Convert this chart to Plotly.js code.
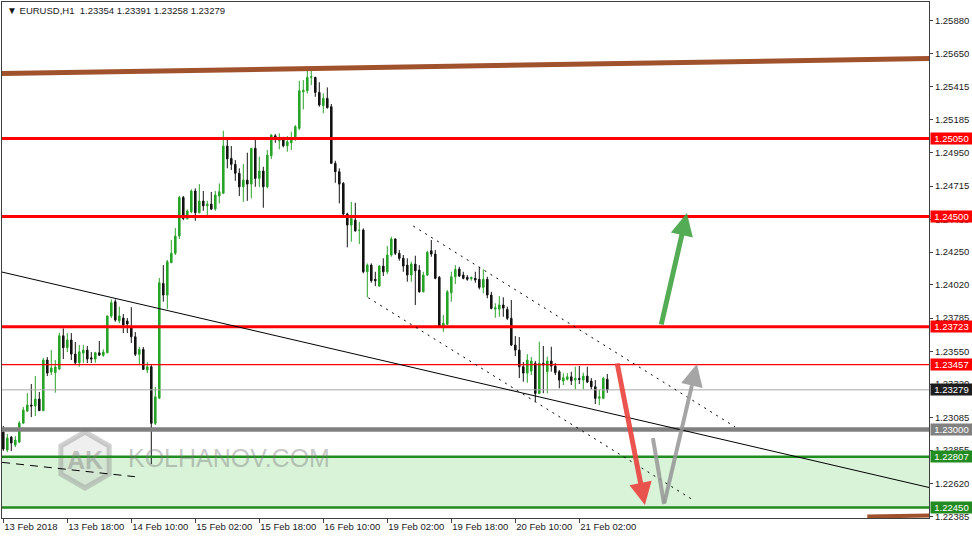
<!DOCTYPE html>
<html>
<head>
<meta charset="utf-8">
<script src="https://cdn.plot.ly/plotly-3.0.1.min.js"></script>
<style>html,body{margin:0;padding:0;background:#fff;}#chart{width:972px;height:539px;}</style>
</head>
<body>
<div id="chart"></div>
<script>
// ---- Candle data (EURUSD H1, bar index 0 = 13 Feb 02:00) ----
const openP = [
1.22982,1.22855,1.22946,1.22890,1.22911,1.23045,1.23130,1.23172,1.23165,1.23214,
1.23132,1.23489,1.23404,1.23400,1.23426,1.23660,1.23576,1.23630,1.23531,1.23470,
1.23538,1.23559,1.23505,1.23496,1.23540,1.23522,1.23540,1.23799,1.23900,1.23766,
1.23785,1.23764,1.23724,1.23653,1.23529,1.23564,1.23419,1.23442,1.23043,1.23221,
1.24029,1.23947,1.24175,1.24241,1.24363,1.24635,1.24485,1.24534,1.24680,1.24527,
1.24609,1.24576,1.24588,1.24553,1.24645,1.24664,1.24997,1.24910,1.24868,1.24805,
1.24710,1.24757,1.24729,1.24981,1.24769,1.24821,1.24710,1.24929,1.25069,1.25034,
1.25051,1.24999,1.25020,1.25044,1.25122,1.25379,1.25387,1.25481,1.25481,1.25375,
1.25281,1.25333,1.25274,1.24875,1.24816,1.24734,1.24518,1.24440,1.24475,1.24403,
1.24405,1.24111,1.24158,1.24058,1.24010,1.24151,1.24111,1.24229,1.24342,1.24241,
1.24206,1.24158,1.24088,1.24165,1.24123,1.23970,1.24088,1.24259,1.24236,1.24072,
1.23729,1.23741,1.23963,1.24076,1.24130,1.24088,1.24072,1.24062,1.24065,1.24058,
1.24001,1.24058,1.23947,1.23848,1.23848,1.23877,1.23846,1.23783,1.23595,1.23559,
1.23442,1.23397,1.23411,1.23466,1.23254,1.23466,1.23407,1.23482,1.23447,1.23407,
1.23341,1.23353,1.23371,1.23348,1.23360,1.23348,1.23376,1.23341,1.23301,1.23219,
1.23219,1.23354];
const highP = [
1.23024,1.22968,1.22953,1.22953,1.23059,1.23158,1.23256,1.23320,1.23376,1.23264,
1.23503,1.23510,1.23559,1.23489,1.23681,1.23712,1.23679,1.23679,1.23616,1.23595,
1.23595,1.23588,1.23545,1.23547,1.23623,1.23564,1.23802,1.23917,1.23917,1.23865,
1.23813,1.23785,1.23862,1.23686,1.23581,1.23581,1.23475,1.23454,1.23299,1.24067,
1.24158,1.24194,1.24335,1.24419,1.24645,1.24645,1.24551,1.24692,1.24699,1.24729,
1.24680,1.24611,1.24673,1.24680,1.24734,1.25105,1.25039,1.24997,1.24898,1.24840,
1.24870,1.24950,1.24983,1.25044,1.24921,1.24851,1.24969,1.25081,1.25081,1.25086,
1.25062,1.25067,1.25098,1.25145,1.25457,1.25462,1.25551,1.25551,1.25485,1.25446,
1.25368,1.25410,1.25293,1.24893,1.24840,1.24743,1.24527,1.24604,1.24597,1.24463,
1.24417,1.24170,1.24170,1.24111,1.24158,1.24206,1.24292,1.24358,1.24347,1.24264,
1.24229,1.24206,1.24182,1.24224,1.24158,1.24111,1.24259,1.24335,1.24264,1.24081,
1.23806,1.23982,1.24111,1.24158,1.24146,1.24111,1.24088,1.24076,1.24111,1.24146,
1.24128,1.24076,1.23970,1.23889,1.23940,1.23931,1.23865,1.23912,1.23658,1.23651,
1.23475,1.23531,1.23510,1.23482,1.23618,1.23588,1.23512,1.23583,1.23468,1.23419,
1.23395,1.23397,1.23407,1.23442,1.23447,1.23400,1.23442,1.23362,1.23348,1.23278,
1.23371,1.23391];
const lowP = [
1.22848,1.22841,1.22848,1.22876,1.22904,1.23038,1.23123,1.23087,1.23094,1.23130,
1.23130,1.23376,1.23383,1.23259,1.23419,1.23496,1.23545,1.23489,1.23454,1.23442,
1.23468,1.23468,1.23468,1.23470,1.23517,1.23512,1.23538,1.23785,1.23759,1.23748,
1.23679,1.23679,1.23609,1.23517,1.23461,1.23419,1.23397,1.22756,1.23031,1.23214,
1.23900,1.23848,1.24172,1.24229,1.24342,1.24475,1.24480,1.24523,1.24471,1.24523,
1.24541,1.24511,1.24546,1.24541,1.24593,1.24659,1.24840,1.24828,1.24752,1.24645,
1.24604,1.24611,1.24628,1.24710,1.24710,1.24562,1.24699,1.24905,1.25020,1.24974,
1.24988,1.24957,1.24969,1.25034,1.25110,1.25255,1.25368,1.25427,1.25344,1.25274,
1.25227,1.25262,1.24870,1.24738,1.24593,1.24511,1.24283,1.24323,1.24393,1.24306,
1.24100,1.23931,1.24034,1.24010,1.24006,1.24081,1.24095,1.24217,1.24229,1.24189,
1.24111,1.24041,1.24041,1.23877,1.23963,1.23966,1.24081,1.24217,1.24058,1.23722,
1.23688,1.23736,1.23900,1.24025,1.24074,1.24058,1.24048,1.24048,1.24034,1.23987,
1.23959,1.23924,1.23846,1.23787,1.23794,1.23794,1.23771,1.23588,1.23517,1.23362,
1.23336,1.23329,1.23383,1.23195,1.23249,1.23256,1.23254,1.23407,1.23383,1.23290,
1.23313,1.23345,1.23313,1.23283,1.23320,1.23283,1.23327,1.23283,1.23179,1.23172,
1.23214,1.23258];
const closeP = [
1.22862,1.22939,1.22904,1.22925,1.23045,1.23137,1.23172,1.23165,1.23214,1.23132,
1.23489,1.23397,1.23433,1.23440,1.23660,1.23576,1.23630,1.23531,1.23470,1.23547,
1.23559,1.23496,1.23496,1.23540,1.23524,1.23545,1.23799,1.23893,1.23771,1.23799,
1.23736,1.23743,1.23653,1.23529,1.23564,1.23423,1.23442,1.23043,1.23230,1.24034,
1.23947,1.24182,1.24241,1.24363,1.24635,1.24487,1.24539,1.24680,1.24527,1.24609,
1.24576,1.24588,1.24553,1.24652,1.24675,1.24997,1.24907,1.24868,1.24805,1.24710,
1.24757,1.24729,1.24981,1.24769,1.24821,1.24710,1.24933,1.25074,1.25046,1.25051,
1.24999,1.25027,1.25055,1.25133,1.25387,1.25391,1.25481,1.25485,1.25375,1.25286,
1.25333,1.25267,1.24875,1.24816,1.24729,1.24518,1.24440,1.24487,1.24400,1.24403,
1.24111,1.24158,1.24048,1.24048,1.24151,1.24111,1.24229,1.24342,1.24241,1.24206,
1.24151,1.24088,1.24165,1.24118,1.23970,1.24088,1.24248,1.24236,1.24065,1.23729,
1.23748,1.23970,1.24076,1.24128,1.24081,1.24065,1.24058,1.24072,1.24053,1.24001,
1.24058,1.23947,1.23853,1.23858,1.23877,1.23855,1.23783,1.23595,1.23559,1.23442,
1.23397,1.23489,1.23482,1.23254,1.23466,1.23454,1.23482,1.23447,1.23400,1.23348,
1.23364,1.23371,1.23343,1.23360,1.23352,1.23376,1.23334,1.23301,1.23219,1.23230,
1.23360,1.23279];

// ---- Axis ticks ----
const timeTickBars = [0,16,32,48,64,80,96,112,128,144];
const timeTickLabels = ["13 Feb 2018","13 Feb 18:00","14 Feb 10:00","15 Feb 02:00","15 Feb 18:00",
                        "16 Feb 10:00","19 Feb 02:00","19 Feb 18:00","20 Feb 10:00","21 Feb 02:00"];
const priceTicks = [1.25880,1.25650,1.25415,1.25185,1.24950,1.24715,1.24480,1.24250,
                    1.24020,1.23785,1.23550,1.23320,1.23085,1.22855,1.22620,1.22385];

// ---- Drawn levels / objects ----
const redLevels = [1.25050, 1.24500, 1.23723, 1.23457];
const supportLevel = 1.23000;
const currentPrice = 1.23279;
const greenZone = [1.22450, 1.22807];
const brownLineX = [-0.33, 231.43];
const brownLineY = [1.25508, 1.25614];
const brownLowX = [216.0, 231.43];
const brownLowY = [1.22386, 1.22394];
const trendLineX = [-0.33, 231.43];
const trendLineY = [1.24109, 1.22591];
const dashLineX = [-0.3, 32.9];
const dashLineY = [1.22768, 1.22667];
const chanUpperX = [102.5, 182.9];
const chanUpperY = [1.24433, 1.23019];
const chanLowerX = [91.25, 172.9];
const chanLowerY = [1.23928, 1.22495];
const arrowGreenX = [164.4, 170.9];   // tail, tip
const arrowGreenY = [1.23729, 1.24525];
const arrowRedX = [153.4, 160.4];
const arrowRedY = [1.23476, 1.22467];
const arrowGrayX = [162.4, 165.2, 173.4]; // start, bottom, tip
const arrowGrayY = [1.22939, 1.22474, 1.23461];
const labelPrices = [1.25050, 1.24500, 1.23723, 1.23457, 1.23279, 1.23000, 1.22807, 1.22450];
const labelColors = ['#ff0000','#ff0000','#ff0000','#ff0000','#1e1e1e','#808080','#228b22','#228b22'];

const barIdx = openP.map((_, i) => i);

const trace = {
  type: 'candlestick',
  x: barIdx, open: openP, high: highP, low: lowP, close: closeP,
  increasing: {line: {color: '#28a428', width: 1}, fillcolor: '#28a428'},
  decreasing: {line: {color: '#141414', width: 1}, fillcolor: '#141414'},
  whiskerwidth: 0,
  hoverinfo: 'skip'
};

// paper helpers for decorations (plot area: x 2..929, y 2..518)
const PX = px => (px - 2) / 927;
const PY = py => 1 - (py - 2) / 516;

const shapes = [];
shapes.push({type:'rect', xref:'paper', yref:'y', x0:0, x1:1, y0:greenZone[0], y1:greenZone[1],
  fillcolor:'#d8f3d8', line:{width:0}, layer:'below'});
// watermark hexagon
const hex = [[85,432],[109.2,446],[109.2,474],[85,488],[60.8,474],[60.8,446]];
shapes.push({type:'path', xref:'paper', yref:'paper',
  path: 'M' + hex.map(p => PX(p[0]).toFixed(5) + ',' + PY(p[1]).toFixed(5)).join('L') + 'Z',
  line:{color:'rgba(150,150,150,0.45)', width:5}, fillcolor:'rgba(190,190,190,0.25)', layer:'above'});

redLevels.forEach((v, i) => shapes.push({type:'line', xref:'paper', yref:'y', x0:0, x1:1, y0:v, y1:v,
  line:{color:'#ff0000', width: i === 3 ? 1.2 : 3}}));
shapes.push({type:'line', xref:'paper', yref:'y', x0:0, x1:1, y0:currentPrice, y1:currentPrice,
  line:{color:'#a8a8a8', width:1}});
shapes.push({type:'line', xref:'paper', yref:'y', x0:0, x1:1, y0:supportLevel, y1:supportLevel,
  line:{color:'#808080', width:4.5}});
greenZone.forEach(v => shapes.push({type:'line', xref:'paper', yref:'y', x0:0, x1:1, y0:v, y1:v,
  line:{color:'#228b22', width:2.5}}));
shapes.push({type:'line', xref:'x', yref:'y', x0:brownLineX[0], x1:brownLineX[1], y0:brownLineY[0], y1:brownLineY[1],
  line:{color:'#a0522d', width:5}});
shapes.push({type:'line', xref:'x', yref:'y', x0:brownLowX[0], x1:brownLowX[1], y0:brownLowY[0], y1:brownLowY[1],
  line:{color:'#a0522d', width:4}});
shapes.push({type:'line', xref:'x', yref:'y', x0:trendLineX[0], x1:trendLineX[1], y0:trendLineY[0], y1:trendLineY[1],
  line:{color:'#000', width:1}});
shapes.push({type:'line', xref:'x', yref:'y', x0:dashLineX[0], x1:dashLineX[1], y0:dashLineY[0], y1:dashLineY[1],
  line:{color:'#000', width:1, dash:'8px,6px'}});
shapes.push({type:'line', xref:'x', yref:'y', x0:chanUpperX[0], x1:chanUpperX[1], y0:chanUpperY[0], y1:chanUpperY[1],
  line:{color:'#000', width:1, dash:'2px,5px'}});
shapes.push({type:'line', xref:'x', yref:'y', x0:chanLowerX[0], x1:chanLowerX[1], y0:chanLowerY[0], y1:chanLowerY[1],
  line:{color:'#000', width:1, dash:'2px,5px'}});
shapes.push({type:'line', xref:'x', yref:'y', x0:arrowGrayX[0], x1:arrowGrayX[1], y0:arrowGrayY[0], y1:arrowGrayY[1],
  line:{color:'rgba(150,150,150,0.85)', width:4}});

const annotations = [];
const arrowAnn = (xs, ys, i0, i1, color) => ({
  xref:'x', yref:'y', axref:'x', ayref:'y', x: xs[i1], y: ys[i1], ax: xs[i0], ay: ys[i0],
  text:'', showarrow:true, arrowhead:2, arrowsize:0.9, arrowwidth:5, arrowcolor: color, standoff:0
});
annotations.push(arrowAnn(arrowGreenX, arrowGreenY, 0, 1, 'rgba(70,165,70,0.92)'));
annotations.push(arrowAnn(arrowRedX, arrowRedY, 0, 1, 'rgba(235,70,66,0.92)'));
annotations.push(Object.assign(arrowAnn(arrowGrayX, arrowGrayY, 1, 2, 'rgba(150,150,150,0.85)'), {arrowwidth:4, arrowsize:1.1}));

labelPrices.forEach((v, i) => annotations.push({
  xref:'paper', yref:'y', x:1, y:v, xanchor:'left', yanchor:'middle', xshift:1,
  text: v.toFixed(5), showarrow:false, bgcolor: labelColors[i], borderpad:0,
  width: 41, height: 11, align:'center',
  font:{color:'#ffffff', size:9.5, family:'"Liberation Sans", Arial, sans-serif'}
}));

annotations.push({xref:'paper', yref:'paper', x:PX(5), y:PY(3), xanchor:'left', yanchor:'top', showarrow:false,
  text:'<span style="font-size:10px">▼</span> EURUSD,H1&nbsp; 1.23354 1.23391 1.23258 1.23279',
  font:{size:9.5, color:'#1a1a1a', family:'"Liberation Sans", Arial, sans-serif'}});
annotations.push({xref:'paper', yref:'paper', x:PX(85), y:PY(460), xanchor:'center', yanchor:'middle', showarrow:false,
  text:'<b>AK</b>', font:{size:25, color:'rgba(130,130,130,0.45)', family:'"Liberation Sans", Arial, sans-serif'}});
annotations.push({xref:'paper', yref:'paper', x:PX(126), y:PY(458), xanchor:'left', yanchor:'middle', showarrow:false,
  text:'KOLHANOV.COM', font:{size:25, color:'rgba(120,120,120,0.42)', family:'"Liberation Sans", Arial, sans-serif'}});

const layout = {
  width: 972, height: 539,
  margin: {l:2, r:43, t:2, b:21, pad:0},
  paper_bgcolor:'#ffffff', plot_bgcolor:'#ffffff',
  showlegend:false,
  boxgap: 0.45,
  font: {family:'"Liberation Sans", Arial, sans-serif', size:9.5, color:'#1a1a1a'},
  xaxis: {
    range:[-0.325, 231.425], rangeslider:{visible:false}, showgrid:false, zeroline:false,
    showline:true, mirror:true, linecolor:'#404040', linewidth:1,
    ticks:'outside', ticklen:4, tickcolor:'#404040', tickwidth:1,
    tickmode:'array', tickvals: timeTickBars, ticktext: timeTickLabels,
    ticklabelposition:'outside right', tickangle:0, fixedrange:true
  },
  yaxis: {
    range:[1.22376, 1.26012], side:'right', showgrid:false, zeroline:false,
    showline:true, mirror:true, linecolor:'#404040', linewidth:1,
    ticks:'outside', ticklen:3, tickcolor:'#404040', tickwidth:1,
    tickmode:'array', tickvals: priceTicks, ticktext: priceTicks.map(v => v.toFixed(5)),
    fixedrange:true
  },
  shapes: shapes,
  annotations: annotations
};

Plotly.newPlot('chart', [trace], layout, {displayModeBar:false, staticPlot:true});
</script>
</body>
</html>
